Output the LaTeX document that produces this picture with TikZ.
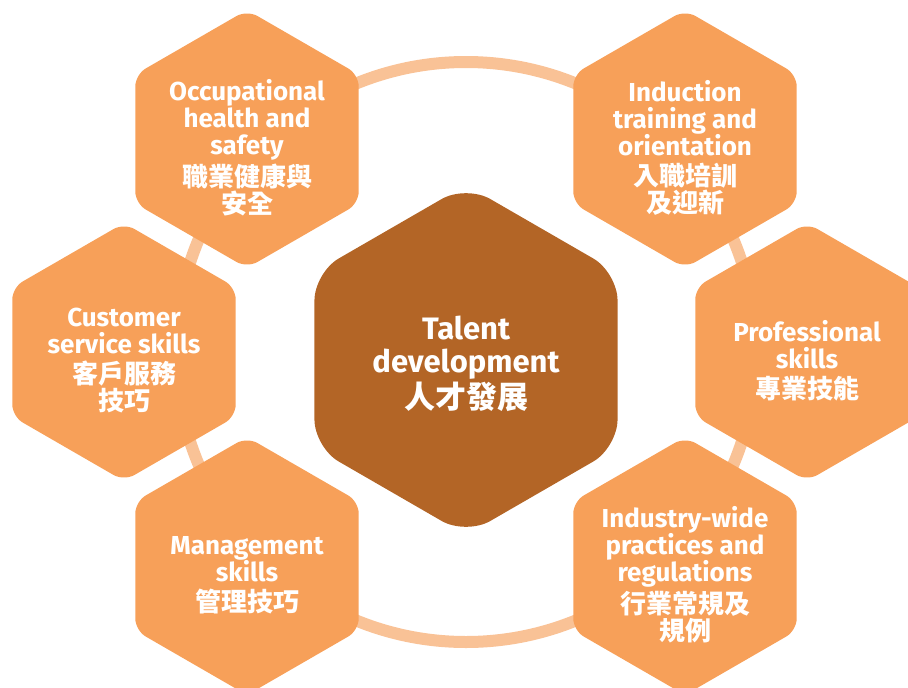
\documentclass[tikz,border=0pt]{standalone}
\usepackage{fontspec}
\setmainfont{Fira Sans}
\newfontfamily\cjk{Noto Sans CJK TC}
\usetikzlibrary{shapes}
\definecolor{hexorange}{RGB}{247,160,89}
\definecolor{ringorange}{RGB}{249,194,150}
\definecolor{hexbrown}{RGB}{179,101,38}

\begin{document}
\begin{tikzpicture}[x=1pt,y=-1pt]
  \tikzstyle{hexa}=[regular polygon,regular polygon sides=6,shape border rotate=30,inner sep=0pt,draw=none]
  \tikzstyle{hexout}=[hexa,fill=hexorange,minimum size=258pt,rounded corners=12pt]
  \tikzstyle{hexmid}=[hexa,fill=hexbrown,minimum size=350pt,rounded corners=28pt]
  \tikzstyle{hextext}=[align=center,text=white,font=\bfseries\fontsize{26}{27}\selectfont,inner sep=0pt]
  \tikzstyle{midtext}=[hextext,font=\bfseries\fontsize{31}{33}\selectfont]
  \tikzstyle{ringline}=[draw=ringorange,line width=12pt]
  \clip (0,0) rectangle (908,688);
  \coordinate (mid) at (466,352);
  \draw[ringline] (mid) circle (290pt);
  \node[hexout] (safety) at (247,139) {};
  \node[hexout] (induction) at (685,139) {};
  \node[hexout] (customer) at (124,352) {};
  \node[hexout] (professional) at (807,352) {};
  \node[hexout] (management) at (247,566) {};
  \node[hexout] (industry) at (685,566) {};
  \node[hexmid] (talent) at (466,360) {};
  \node[hextext,yshift=-9pt] (safety-t) at (safety) {Occupational\\health and\\safety\\[3pt]\cjk 職業健康與\\\cjk 安全};
  \node[hextext,yshift=-9pt] (induction-t) at (induction) {Induction\\training and\\orientation\\[3pt]\cjk 入職培訓\\\cjk 及迎新};
  \node[hextext,yshift=-9pt] (customer-t) at (customer) {Customer\\service skills\\[3pt]\cjk 客戶服務\\\cjk 技巧};
  \node[hextext,yshift=-9pt] (professional-t) at (professional) {Professional\\skills\\[3pt]\cjk 專業技能};
  \node[hextext,yshift=-9pt] (management-t) at (management) {Management\\skills\\[3pt]\cjk 管理技巧};
  \node[hextext,yshift=-9pt] (industry-t) at (industry) {Industry-wide\\practices and\\regulations\\[3pt]\cjk 行業常規及\\\cjk 規例};
  \node[midtext,yshift=-4pt] (talent-t) at (talent) {Talent\\development\\[2pt]\cjk 人才發展};
\end{tikzpicture}
\end{document}
